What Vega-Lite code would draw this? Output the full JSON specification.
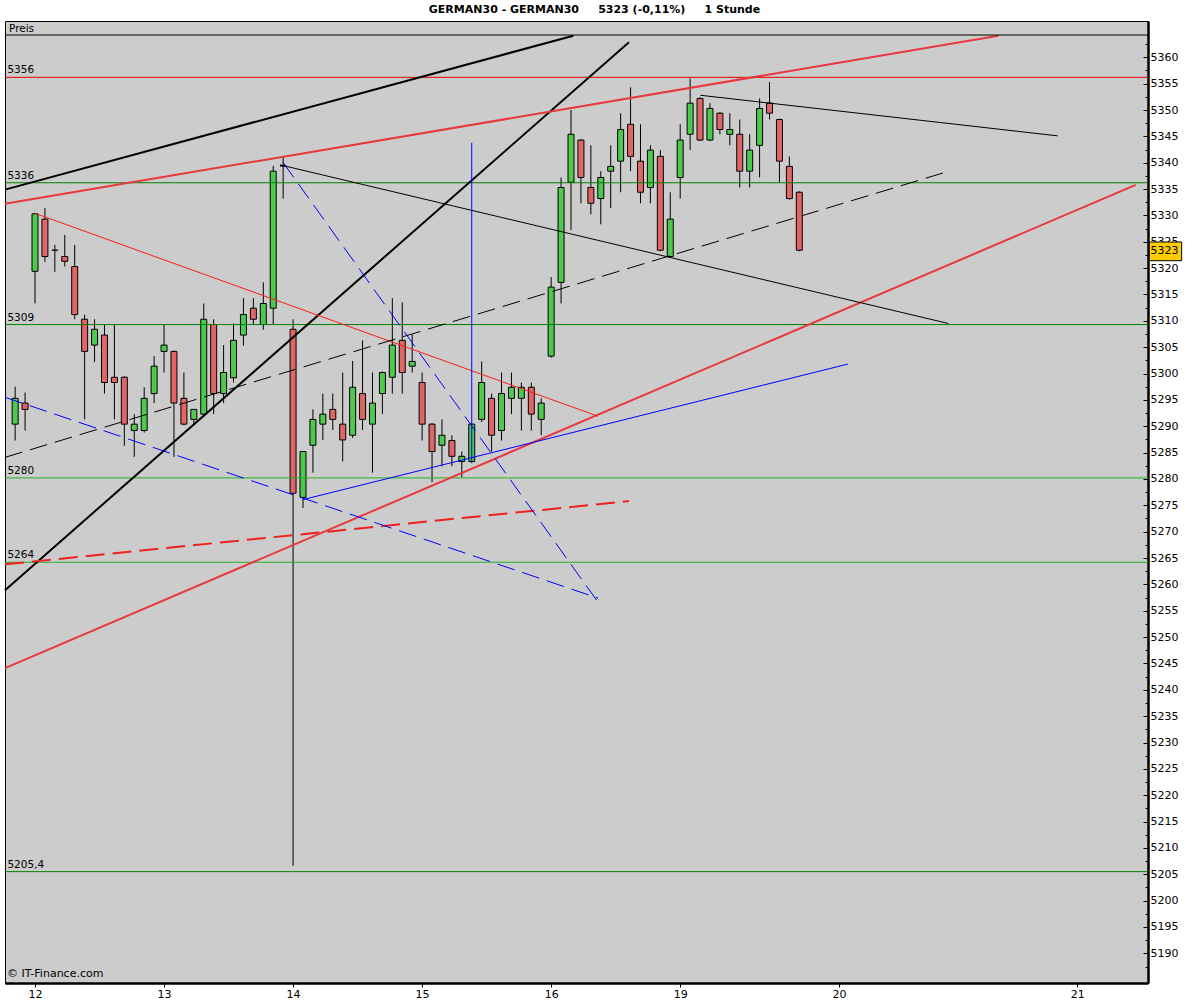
{
  "$schema": "https://vega.github.io/schema/vega-lite/v6.json",
  "width": 1143,
  "height": 962,
  "autosize": {"type": "none"},
  "padding": {"left": 5, "top": 21, "right": 52, "bottom": 17},
  "background": "white",
  "title": {
    "text": "GERMAN30 - GERMAN30\u00a0\u00a0\u00a0\u00a0\u00a05323 (-0,11%)\u00a0\u00a0\u00a0\u00a0\u00a01 Stunde",
    "font": "DejaVu Sans",
    "fontSize": 11,
    "fontWeight": "bold",
    "color": "black",
    "anchor": "middle",
    "frame": "group",
    "dx": 18,
    "offset": -3,
    "baseline": "alphabetic"
  },
  "config": {
    "view": {"fill": "#cccccc", "stroke": "black", "strokeWidth": 1},
    "font": "DejaVu Sans"
  },
  "resolve": {"axis": {"y": "independent"}},
  "datasets": {
    "candles": [
      {"i": 0, "o": 5290.4, "h": 5297.5, "l": 5287.3, "c": 5295.3},
      {"i": 1, "o": 5294.4, "h": 5296.4, "l": 5289.2, "c": 5293.2},
      {"i": 2, "o": 5319.4, "h": 5330.5, "l": 5313.3, "c": 5330.3},
      {"i": 3, "o": 5329.3, "h": 5331.4, "l": 5321.2, "c": 5322.2},
      {"i": 4, "o": 5323.4, "h": 5324.4, "l": 5319.3, "c": 5323.4},
      {"i": 5, "o": 5322.2, "h": 5326.3, "l": 5320.3, "c": 5321.3},
      {"i": 6, "o": 5320.3, "h": 5324.4, "l": 5310.3, "c": 5311.2},
      {"i": 7, "o": 5310.3, "h": 5311.2, "l": 5291.3, "c": 5304.2},
      {"i": 8, "o": 5305.4, "h": 5310.3, "l": 5302.2, "c": 5308.4},
      {"i": 9, "o": 5307.3, "h": 5309.3, "l": 5296.2, "c": 5298.3},
      {"i": 10, "o": 5299.3, "h": 5309.3, "l": 5291.3, "c": 5298.3},
      {"i": 11, "o": 5299.3, "h": 5299.5, "l": 5286.3, "c": 5290.4},
      {"i": 12, "o": 5289.2, "h": 5292.3, "l": 5284.2, "c": 5290.4},
      {"i": 13, "o": 5289.2, "h": 5297.4, "l": 5288.8, "c": 5295.3},
      {"i": 14, "o": 5296.2, "h": 5303.3, "l": 5294.4, "c": 5301.4},
      {"i": 15, "o": 5304.2, "h": 5309.3, "l": 5300.2, "c": 5305.4},
      {"i": 16, "o": 5304.2, "h": 5304.4, "l": 5284.2, "c": 5294.4},
      {"i": 17, "o": 5295.3, "h": 5300.2, "l": 5290.2, "c": 5290.4},
      {"i": 18, "o": 5291.3, "h": 5293.2, "l": 5290.2, "c": 5293.2},
      {"i": 19, "o": 5292.3, "h": 5313.3, "l": 5292.0, "c": 5310.3},
      {"i": 20, "o": 5309.3, "h": 5310.3, "l": 5292.3, "c": 5296.2},
      {"i": 21, "o": 5296.2, "h": 5305.4, "l": 5294.4, "c": 5300.2},
      {"i": 22, "o": 5299.2, "h": 5309.5, "l": 5298.3, "c": 5306.3},
      {"i": 23, "o": 5307.3, "h": 5314.3, "l": 5305.3, "c": 5311.2},
      {"i": 24, "o": 5312.4, "h": 5314.3, "l": 5309.3, "c": 5310.3},
      {"i": 25, "o": 5309.3, "h": 5317.3, "l": 5308.3, "c": 5313.3},
      {"i": 26, "o": 5312.4, "h": 5339.4, "l": 5309.3, "c": 5338.4},
      {"i": 27, "o": 5339.4, "h": 5341.3, "l": 5333.2, "c": 5339.4},
      {"i": 28, "o": 5308.4, "h": 5310.3, "l": 5206.6, "c": 5277.3},
      {"i": 29, "o": 5276.5, "h": 5285.2, "l": 5274.5, "c": 5285.2},
      {"i": 30, "o": 5286.4, "h": 5293.2, "l": 5281.2, "c": 5291.3},
      {"i": 31, "o": 5290.4, "h": 5296.2, "l": 5287.4, "c": 5292.3},
      {"i": 32, "o": 5293.2, "h": 5296.2, "l": 5289.3, "c": 5291.3},
      {"i": 33, "o": 5290.4, "h": 5300.2, "l": 5283.3, "c": 5287.4},
      {"i": 34, "o": 5288.3, "h": 5302.4, "l": 5287.8, "c": 5297.4},
      {"i": 35, "o": 5296.2, "h": 5306.3, "l": 5289.3, "c": 5291.3},
      {"i": 36, "o": 5290.4, "h": 5300.2, "l": 5281.2, "c": 5294.4},
      {"i": 37, "o": 5296.2, "h": 5300.4, "l": 5292.3, "c": 5300.2},
      {"i": 38, "o": 5299.3, "h": 5314.3, "l": 5296.2, "c": 5305.4},
      {"i": 39, "o": 5306.3, "h": 5313.5, "l": 5296.2, "c": 5300.2},
      {"i": 40, "o": 5301.4, "h": 5307.4, "l": 5300.2, "c": 5302.3},
      {"i": 41, "o": 5298.3, "h": 5300.2, "l": 5287.3, "c": 5290.4},
      {"i": 42, "o": 5290.4, "h": 5290.6, "l": 5279.4, "c": 5285.2},
      {"i": 43, "o": 5286.4, "h": 5291.3, "l": 5282.4, "c": 5288.3},
      {"i": 44, "o": 5287.3, "h": 5288.3, "l": 5282.4, "c": 5284.3},
      {"i": 45, "o": 5283.3, "h": 5285.2, "l": 5280.3, "c": 5284.3},
      {"i": 46, "o": 5283.3, "h": 5290.6, "l": 5283.0, "c": 5290.4},
      {"i": 47, "o": 5291.3, "h": 5302.3, "l": 5290.8, "c": 5298.3},
      {"i": 48, "o": 5295.3, "h": 5296.2, "l": 5285.2, "c": 5288.3},
      {"i": 49, "o": 5289.2, "h": 5300.2, "l": 5287.3, "c": 5296.2},
      {"i": 50, "o": 5295.3, "h": 5300.2, "l": 5292.3, "c": 5297.4},
      {"i": 51, "o": 5295.3, "h": 5298.3, "l": 5289.2, "c": 5297.4},
      {"i": 52, "o": 5297.4, "h": 5298.3, "l": 5289.2, "c": 5292.3},
      {"i": 53, "o": 5291.3, "h": 5295.3, "l": 5288.3, "c": 5294.4},
      {"i": 54, "o": 5303.3, "h": 5318.3, "l": 5303.0, "c": 5316.4},
      {"i": 55, "o": 5317.3, "h": 5337.2, "l": 5313.3, "c": 5335.3},
      {"i": 56, "o": 5336.3, "h": 5350.0, "l": 5327.2, "c": 5345.4},
      {"i": 57, "o": 5344.3, "h": 5344.5, "l": 5332.3, "c": 5337.2},
      {"i": 58, "o": 5335.3, "h": 5343.3, "l": 5330.2, "c": 5332.3},
      {"i": 59, "o": 5333.2, "h": 5338.4, "l": 5328.3, "c": 5337.2},
      {"i": 60, "o": 5338.4, "h": 5343.3, "l": 5331.4, "c": 5339.3},
      {"i": 61, "o": 5340.3, "h": 5349.4, "l": 5334.4, "c": 5346.3},
      {"i": 62, "o": 5347.3, "h": 5354.3, "l": 5338.4, "c": 5341.2},
      {"i": 63, "o": 5340.3, "h": 5347.3, "l": 5332.3, "c": 5334.4},
      {"i": 64, "o": 5335.3, "h": 5343.3, "l": 5332.3, "c": 5342.4},
      {"i": 65, "o": 5341.2, "h": 5342.4, "l": 5323.2, "c": 5323.4},
      {"i": 66, "o": 5322.2, "h": 5334.4, "l": 5322.0, "c": 5329.3},
      {"i": 67, "o": 5337.2, "h": 5347.3, "l": 5333.2, "c": 5344.3},
      {"i": 68, "o": 5345.4, "h": 5356.0, "l": 5342.4, "c": 5351.3},
      {"i": 69, "o": 5352.2, "h": 5352.4, "l": 5344.1, "c": 5344.3},
      {"i": 70, "o": 5344.3, "h": 5351.3, "l": 5344.1, "c": 5350.3},
      {"i": 71, "o": 5349.4, "h": 5349.6, "l": 5345.4, "c": 5346.3},
      {"i": 72, "o": 5345.4, "h": 5349.4, "l": 5343.3, "c": 5346.3},
      {"i": 73, "o": 5345.4, "h": 5348.2, "l": 5335.3, "c": 5338.4},
      {"i": 74, "o": 5338.4, "h": 5345.4, "l": 5335.3, "c": 5342.4},
      {"i": 75, "o": 5343.3, "h": 5352.2, "l": 5337.2, "c": 5350.3},
      {"i": 76, "o": 5351.3, "h": 5355.3, "l": 5348.2, "c": 5349.4},
      {"i": 77, "o": 5348.2, "h": 5348.4, "l": 5336.3, "c": 5340.3},
      {"i": 78, "o": 5339.3, "h": 5341.2, "l": 5333.0, "c": 5333.2},
      {"i": 79, "o": 5334.4, "h": 5334.6, "l": 5323.2, "c": 5323.4}
    ],
    "levels": [
      {"label": "5356", "value": 5356.2},
      {"label": "5336", "value": 5336.2},
      {"label": "5309", "value": 5309.3},
      {"label": "5280", "value": 5280.2},
      {"label": "5264", "value": 5264.2},
      {"label": "5205,4", "value": 5205.5}
    ],
    "lines": [
      {"id": "L1", "i": -1.02, "p": 5334.9}, {"id": "L1", "i": 56.23, "p": 5364.1},
      {"id": "L2", "i": -1.02, "p": 5258.9}, {"id": "L2", "i": 61.84, "p": 5362.85},
      {"id": "L3", "i": -1.02, "p": 5332.2}, {"id": "L3", "i": 99.05, "p": 5364.1},
      {"id": "L4", "i": -1.02, "p": 5244.1}, {"id": "L4", "i": 112.89, "p": 5335.8},
      {"id": "L5", "i": -1.02, "p": 5263.8}, {"id": "L5", "i": 61.84, "p": 5275.8},
      {"id": "L6", "i": 2.0, "p": 5330.4}, {"id": "L6", "i": 58.72, "p": 5291.9},
      {"id": "L7", "i": 26.68, "p": 5339.6}, {"id": "L7", "i": 94.01, "p": 5309.5},
      {"id": "L8", "i": 69.03, "p": 5352.8}, {"id": "L8", "i": 105.03, "p": 5345.1},
      {"id": "L9", "i": -1.02, "p": 5284.1}, {"id": "L9", "i": 93.91, "p": 5338.3},
      {"id": "L10", "i": 29.03, "p": 5276.1}, {"id": "L10", "i": 83.9, "p": 5301.8},
      {"id": "L11", "i": -1.02, "p": 5295.5}, {"id": "L11", "i": 58.72, "p": 5257.4},
      {"id": "L12", "i": 27.01, "p": 5340.0}, {"id": "L12", "i": 58.92, "p": 5256.1},
      {"id": "L13", "i": 46, "p": 5343.8}, {"id": "L13", "i": 46.001, "p": 5283.3}
    ],
    "last": [{"label": "5323", "price": 5323.2}]
  },
  "layer": [
    {
      "data": {"name": "candles"},
      "mark": {"type": "rule", "color": "black", "strokeWidth": 1},
      "encoding": {
        "x": {
          "field": "i", "type": "quantitative",
          "scale": {"domain": [-1.0226, 114.13], "nice": false, "zero": false, "padding": 0},
          "axis": {
            "orient": "bottom", "title": null, "grid": false,
            "values": [2, 15, 28, 41, 54, 67, 83, 107],
            "labelExpr": "['12','13','14','15','16','19','20','21'][indexof([2,15,28,41,54,67,83,107], datum.value)]",
            "domainColor": "black", "domainWidth": 2.5,
            "tickColor": "black", "tickSize": 4, "tickWidth": 1,
            "labelFont": "DejaVu Sans", "labelFontSize": 11, "labelColor": "black",
            "labelPadding": 1, "labelFlush": false, "labelOverlap": false
          }
        },
        "y": {
          "field": "l", "type": "quantitative",
          "scale": {"domain": [5184.37, 5366.89], "nice": false, "zero": false, "padding": 0},
          "axis": {
            "orient": "right", "title": null, "grid": false,
            "values": [5190, 5195, 5200, 5205, 5210, 5215, 5220, 5225, 5230, 5235, 5240, 5245, 5250, 5255, 5260, 5265, 5270, 5275, 5280, 5285, 5290, 5295, 5300, 5305, 5310, 5315, 5320, 5325, 5330, 5335, 5340, 5345, 5350, 5355, 5360],
            "format": "d",
            "domainColor": "black", "domainWidth": 2.5,
            "tickColor": "black", "tickWidth": 1, "tickSize": -5,
            "labelFont": "DejaVu Sans", "labelFontSize": 11, "labelColor": "black",
            "labelPadding": 7, "labelFlush": false, "labelOverlap": false, "labelBaseline": "middle"
          }
        },
        "y2": {"field": "h"}
      }
    },
    {
      "data": {"name": "candles"},
      "mark": {"type": "bar", "size": 6, "stroke": "black", "strokeWidth": 1},
      "encoding": {
        "x": {"field": "i", "type": "quantitative", "title": null},
        "y": {
          "field": "o", "type": "quantitative",
          "axis": {
            "orient": "right", "title": null, "grid": false, "labels": false, "domain": false,
            "values": [5187.5, 5192.5, 5197.5, 5202.5, 5207.5, 5212.5, 5217.5, 5222.5, 5227.5, 5232.5, 5237.5, 5242.5, 5247.5, 5252.5, 5257.5, 5262.5, 5267.5, 5272.5, 5277.5, 5282.5, 5287.5, 5292.5, 5297.5, 5302.5, 5307.5, 5312.5, 5317.5, 5322.5, 5327.5, 5332.5, 5337.5, 5342.5, 5347.5, 5352.5, 5357.5, 5362.5],
            "tickColor": "black", "tickWidth": 1, "tickSize": -3
          }
        },
        "y2": {"field": "c"},
        "color": {
          "condition": {"test": "datum.c >= datum.o", "value": "#4dc94d"},
          "value": "#e06666"
        }
      }
    },
    {
      "data": {"name": "levels"},
      "mark": {"type": "rule", "strokeWidth": 1},
      "encoding": {
        "y": {"field": "value", "type": "quantitative", "axis": null},
        "color": {
          "condition": [
            {"test": "datum.label === '5356'", "value": "#e00000"},
            {"test": "datum.label === '5280' || datum.label === '5264'", "value": "#22b022"}
          ],
          "value": "#008000"
        }
      }
    },
    {
      "data": {"name": "levels"},
      "mark": {"type": "text", "align": "left", "baseline": "alphabetic", "dy": -4, "fontSize": 10.5, "font": "DejaVu Sans", "color": "black"},
      "encoding": {
        "x": {"datum": -0.78, "type": "quantitative", "title": null},
        "y": {"field": "value", "type": "quantitative", "axis": null},
        "text": {"field": "label"}
      }
    },
    {
      "data": {"name": "lines"},
      "transform": [{"filter": "datum.id === 'L1' || datum.id === 'L2'"}],
      "mark": {"type": "line", "color": "black", "strokeWidth": 2},
      "encoding": {
        "x": {"field": "i", "type": "quantitative", "title": null},
        "y": {"field": "p", "type": "quantitative", "axis": null},
        "detail": {"field": "id"}
      }
    },
    {
      "data": {"name": "lines"},
      "transform": [{"filter": "datum.id === 'L3' || datum.id === 'L4'"}],
      "mark": {"type": "line", "color": "#e8383d", "strokeWidth": 2},
      "encoding": {
        "x": {"field": "i", "type": "quantitative", "title": null},
        "y": {"field": "p", "type": "quantitative", "axis": null},
        "detail": {"field": "id"}
      }
    },
    {
      "data": {"name": "lines"},
      "transform": [{"filter": "datum.id === 'L5'"}],
      "mark": {"type": "line", "color": "#f02020", "strokeWidth": 2, "strokeDash": [19, 8]},
      "encoding": {
        "x": {"field": "i", "type": "quantitative", "title": null},
        "y": {"field": "p", "type": "quantitative", "axis": null},
        "detail": {"field": "id"}
      }
    },
    {
      "data": {"name": "lines"},
      "transform": [{"filter": "datum.id === 'L6'"}],
      "mark": {"type": "line", "color": "#ff1a1a", "strokeWidth": 1},
      "encoding": {
        "x": {"field": "i", "type": "quantitative", "title": null},
        "y": {"field": "p", "type": "quantitative", "axis": null},
        "detail": {"field": "id"}
      }
    },
    {
      "data": {"name": "lines"},
      "transform": [{"filter": "datum.id === 'L7' || datum.id === 'L8'"}],
      "mark": {"type": "line", "color": "black", "strokeWidth": 1},
      "encoding": {
        "x": {"field": "i", "type": "quantitative", "title": null},
        "y": {"field": "p", "type": "quantitative", "axis": null},
        "detail": {"field": "id"}
      }
    },
    {
      "data": {"name": "lines"},
      "transform": [{"filter": "datum.id === 'L9'"}],
      "mark": {"type": "line", "color": "black", "strokeWidth": 1, "strokeDash": [18, 8]},
      "encoding": {
        "x": {"field": "i", "type": "quantitative", "title": null},
        "y": {"field": "p", "type": "quantitative", "axis": null},
        "detail": {"field": "id"}
      }
    },
    {
      "data": {"name": "lines"},
      "transform": [{"filter": "datum.id === 'L10' || datum.id === 'L13'"}],
      "mark": {"type": "line", "color": "#0000ff", "strokeWidth": 1},
      "encoding": {
        "x": {"field": "i", "type": "quantitative", "title": null},
        "y": {"field": "p", "type": "quantitative", "axis": null},
        "detail": {"field": "id"}
      }
    },
    {
      "data": {"name": "lines"},
      "transform": [{"filter": "datum.id === 'L11' || datum.id === 'L12'"}],
      "mark": {"type": "line", "color": "#0000ff", "strokeWidth": 1, "strokeDash": [18, 8]},
      "encoding": {
        "x": {"field": "i", "type": "quantitative", "title": null},
        "y": {"field": "p", "type": "quantitative", "axis": null},
        "detail": {"field": "id"}
      }
    },
    {
      "data": {"values": [{}]},
      "mark": {"type": "rule", "color": "black", "strokeWidth": 1},
      "encoding": {
        "y": {"datum": 5364.23, "type": "quantitative", "axis": null}
      }
    },
    {
      "data": {"values": [{}]},
      "mark": {"type": "text", "align": "left", "baseline": "alphabetic", "fontSize": 10.5, "font": "DejaVu Sans", "color": "black", "text": "Preis"},
      "encoding": {
        "x": {"datum": -0.62, "type": "quantitative", "title": null},
        "y": {"datum": 5364.86, "type": "quantitative", "axis": null}
      }
    },
    {
      "data": {"values": [{}]},
      "mark": {"type": "text", "align": "left", "baseline": "alphabetic", "fontSize": 11, "font": "DejaVu Sans", "color": "black", "text": "© IT-Finance.com"},
      "encoding": {
        "x": {"datum": -0.83, "type": "quantitative", "title": null},
        "y": {"datum": 5185.5, "type": "quantitative", "axis": null}
      }
    },
    {
      "data": {"name": "last"},
      "mark": {"type": "rect", "fill": "#ffcc00", "stroke": "black", "strokeWidth": 1, "clip": false},
      "encoding": {
        "x": {"datum": 114.26, "type": "quantitative", "title": null},
        "x2": {"datum": 117.52},
        "y": {"datum": 5324.96, "type": "quantitative", "axis": null},
        "y2": {"datum": 5321.41}
      }
    },
    {
      "data": {"name": "last"},
      "mark": {"type": "text", "align": "left", "baseline": "middle", "fontSize": 11, "font": "DejaVu Sans", "color": "black", "clip": false},
      "encoding": {
        "x": {"datum": 114.38, "type": "quantitative", "title": null},
        "y": {"field": "price", "type": "quantitative", "axis": null},
        "text": {"field": "label"}
      }
    }
  ]
}
